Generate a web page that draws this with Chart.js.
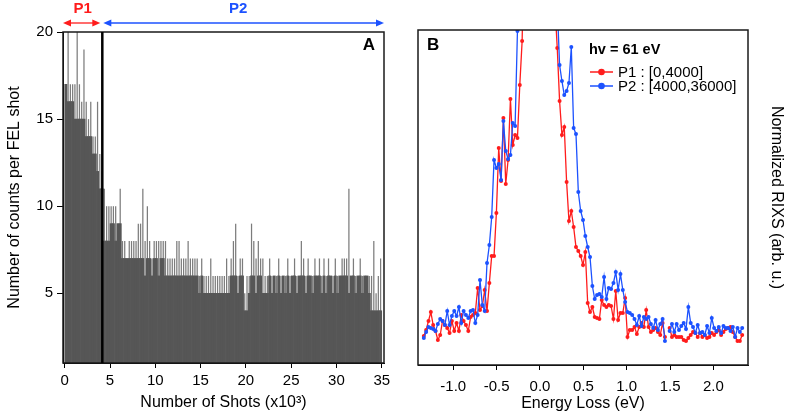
<!DOCTYPE html>
<html>
<head>
<meta charset="utf-8">
<script src="https://cdn.jsdelivr.net/npm/chart.js@4.4.0/dist/chart.umd.min.js"></script>
<style>
  html, body { margin: 0; padding: 0; background: #fff; }
  #wrap { position: relative; width: 787px; height: 413px; }
  canvas { position: absolute; top: 0; }
  #chartA { left: 0; }
  #chartB { left: 400px; }
</style>
</head>
<body>
<div id="wrap">
  <canvas id="chartA" width="400" height="413"></canvas>
  <canvas id="chartB" width="387" height="413"></canvas>
</div>
<script>
// ---- panel A : counts per FEL shot, binned by 250 shots (x in units of 10^3 shots)
const shotBins = [
  0.125, 0.375, 0.625, 0.875, 1.125, 1.375, 1.625, 1.875, 2.125, 2.375,
  2.625, 2.875, 3.125, 3.375, 3.625, 3.875, 4.125, 4.375, 4.625, 4.875,
  5.125, 5.375, 5.625, 5.875, 6.125, 6.375, 6.625, 6.875, 7.125, 7.375,
  7.625, 7.875, 8.125, 8.375, 8.625, 8.875, 9.125, 9.375, 9.625, 9.875,
  10.125, 10.375, 10.625, 10.875, 11.125, 11.375, 11.625, 11.875, 12.125, 12.375,
  12.625, 12.875, 13.125, 13.375, 13.625, 13.875, 14.125, 14.375, 14.625, 14.875,
  15.125, 15.375, 15.625, 15.875, 16.125, 16.375, 16.625, 16.875, 17.125, 17.375,
  17.625, 17.875, 18.125, 18.375, 18.625, 18.875, 19.125, 19.375, 19.625, 19.875,
  20.125, 20.375, 20.625, 20.875, 21.125, 21.375, 21.625, 21.875, 22.125, 22.375,
  22.625, 22.875, 23.125, 23.375, 23.625, 23.875, 24.125, 24.375, 24.625, 24.875,
  25.125, 25.375, 25.625, 25.875, 26.125, 26.375, 26.625, 26.875, 27.125, 27.375,
  27.625, 27.875, 28.125, 28.375, 28.625, 28.875, 29.125, 29.375, 29.625, 29.875,
  30.125, 30.375, 30.625, 30.875, 31.125, 31.375, 31.625, 31.875, 32.125, 32.375,
  32.625, 32.875, 33.125, 33.375, 33.625, 33.875, 34.125, 34.375, 34.625, 34.875
];
// typical count level in each bin
const countLevel = [
  17, 16, 16, 16, 15, 15, 15, 15, 15, 14,
  14, 14, 13, 13, 12, 11, 11, 8, 8, 8,
  9, 9, 8, 9, 9, 7, 7, 7, 7, 7,
  7, 7, 7, 7, 7, 6, 7, 7, 6, 7,
  7, 6, 7, 7, 6, 6, 6, 6, 6, 6,
  6, 6, 6, 6, 6, 6, 6, 6, 6, 5,
  6, 5, 5, 5, 5, 5, 5, 5, 5, 5,
  5, 5, 5, 6, 6, 6, 5, 6, 6, 4,
  4, 5, 6, 6, 5, 6, 6, 5, 5, 5,
  6, 5, 6, 5, 6, 5, 6, 5, 6, 5,
  6, 6, 5, 6, 6, 6, 5, 6, 6, 5,
  6, 6, 6, 5, 6, 5, 6, 6, 5, 6,
  5, 6, 6, 6, 6, 5, 6, 6, 5, 6,
  6, 5, 6, 6, 5, 4, 4, 4, 4, 4
];
// highest single-shot count in each bin
const countMax = [
  17, 20, 17, 17, 17, 20, 17, 16, 19, 16,
  15, 16, 14, 14, 16, 13, 12, 11, 10, 10,
  10, 10, 10, 9, 11, 8, 8, 7, 8, 8,
  8, 8, 9, 9, 11, 8, 10, 8, 7, 8,
  8, 8, 8, 8, 8, 7, 7, 7, 7, 8,
  8, 7, 7, 7, 8, 7, 7, 7, 7, 6,
  7, 6, 6, 6, 7, 6, 6, 6, 6, 6,
  6, 7, 6, 7, 8, 9, 6, 7, 7, 5,
  6, 6, 9, 8, 7, 8, 7, 7, 6, 6,
  7, 6, 6, 6, 7, 6, 6, 6, 7, 6,
  6, 7, 6, 6, 8, 7, 6, 7, 6, 6,
  7, 6, 7, 6, 7, 6, 7, 6, 6, 7,
  6, 6, 7, 7, 7, 11, 6, 7, 6, 6,
  7, 6, 6, 6, 6, 6, 8, 5, 6, 7
];
const boundaryShots = 4.15;
const shotTicks = [0, 5, 10, 15, 20, 25, 30, 35];
const countTicks = [5, 10, 15, 20];

// ---- panel B : RIXS spectra
const energyLoss = [
  -1.340, -1.313, -1.286, -1.259, -1.232, -1.205, -1.178, -1.151, -1.124, -1.097,
  -1.070, -1.043, -1.016, -0.989, -0.962, -0.935, -0.908, -0.881, -0.854, -0.827,
  -0.800, -0.773, -0.746, -0.719, -0.692, -0.665, -0.638, -0.611, -0.584, -0.557,
  -0.530, -0.503, -0.476, -0.449, -0.422, -0.395, -0.368, -0.341, -0.314, -0.287,
  -0.260, -0.233, -0.206, -0.179, -0.152, -0.125, -0.098, -0.071, -0.044, -0.017,
  0.010, 0.037, 0.064, 0.091, 0.118, 0.145, 0.172, 0.199, 0.226, 0.253,
  0.280, 0.307, 0.334, 0.361, 0.388, 0.415, 0.442, 0.469, 0.496, 0.523,
  0.550, 0.577, 0.604, 0.631, 0.658, 0.685, 0.712, 0.739, 0.766, 0.793,
  0.820, 0.847, 0.874, 0.901, 0.928, 0.955, 0.982, 1.009, 1.036, 1.063,
  1.090, 1.117, 1.144, 1.171, 1.198, 1.225, 1.252, 1.279, 1.306, 1.333,
  1.360, 1.387, 1.414, 1.441, 1.468, 1.495, 1.522, 1.549, 1.576, 1.603,
  1.630, 1.657, 1.684, 1.711, 1.738, 1.765, 1.792, 1.819, 1.846, 1.873,
  1.900, 1.927, 1.954, 1.981, 2.008, 2.035, 2.062, 2.089, 2.116, 2.143,
  2.170, 2.197, 2.224, 2.251, 2.278, 2.305, 2.332
];
const rixsP1 = [
  0.29, 0.35, 0.44, 0.53, 0.40, 0.34, 0.25, 0.30, 0.44, 0.40,
  0.37, 0.32, 0.44, 0.34, 0.42, 0.34, 0.50, 0.44, 0.40, 0.34,
  0.48, 0.50, 0.52, 0.77, 0.55, 0.59, 0.75, 0.54, 0.82, 1.09,
  1.09, 1.52, 2.17, 1.84, 2.47, 1.81, 2.05, 2.66, 2.20, 2.30,
  2.27, 2.80, 3.24, 4.50, 6.80, 9.50, 12.6, 15.2, 16.8, 17.1,
  16.0, 13.5, 10.4, 7.60, 5.50, 4.20, 3.60, 3.17, 2.64, 2.30,
  2.38, 1.83, 1.44, 1.54, 1.38, 1.18, 1.14, 1.09, 1.00, 1.13,
  0.62, 0.53, 0.58, 0.48, 0.47, 0.46, 0.65, 0.60, 0.58, 0.60,
  0.59, 0.46, 0.74, 0.45, 0.52, 0.52, 0.67, 0.28, 0.35, 0.35,
  0.38, 0.31, 0.38, 0.42, 0.38, 0.55, 0.38, 0.33, 0.35, 0.37,
  0.33, 0.30, 0.42, 0.28, null, 0.37, 0.28, 0.30, 0.28, 0.28,
  0.28, 0.25, 0.24, 0.27, 0.30, 0.33, 0.32, 0.28, 0.32, 0.28,
  0.30, 0.27, 0.28, 0.32, 0.30, 0.33, 0.35, 0.30, 0.33, 0.36,
  0.37, 0.38, 0.33, 0.28, 0.24, 0.24, 0.30
];
const rixsP2 = [
  0.27, 0.33, 0.38, 0.37, 0.36, 0.34, 0.41, 0.46, 0.44, 0.40,
  0.54, 0.40, 0.49, 0.54, 0.49, 0.58, 0.42, 0.54, 0.50, 0.47,
  0.54, 0.55, 0.42, 0.50, 0.85, 0.60, 0.54, 1.02, 1.20, 1.48,
  2.05, 1.97, 2.01, 1.85, 2.44, 2.14, 2.06, 2.10, 2.42, 2.39,
  3.34, 4.60, 6.20, 8.50, 11.2, 13.8, 15.6, 16.4, 16.2, 14.9,
  12.8, 10.6, 8.40, 6.50, 5.20, 4.40, 3.90, 3.60, 3.00, 2.84,
  2.70, 2.74, 2.82, 3.18, 2.37, 2.31, 1.73, 1.54, 1.45, 1.29,
  1.18, 1.08, 0.79, 0.66, 0.70, 0.71, 0.68, 0.88, 0.66, 0.77,
  0.76, 0.82, 0.93, 0.75, 0.91, 0.75, 0.63, 0.53, 0.52, 0.50,
  0.46, 0.40, 0.49, 0.39, 0.48, 0.46, 0.48, 0.41, 0.37, 0.45,
  0.35, 0.41, 0.46, 0.24, null, 0.34, 0.41, 0.33, 0.41, 0.35,
  0.39, 0.42, 0.36, 0.58, 0.42, 0.38, 0.32, 0.40, 0.32, 0.33,
  0.30, 0.39, 0.32, 0.47, 0.37, 0.34, 0.38, 0.32, 0.39, 0.37,
  0.37, 0.34, 0.38, 0.28, 0.37, 0.33, 0.37
];
const seriesLabels = ['P1 : [0,4000]', 'P2 : [4000,36000]'];
const energyTicks = [-1.0, -0.5, 0.0, 0.5, 1.0, 1.5, 2.0];

const FONT = '"Liberation Sans", Arial, Helvetica, sans-serif';
const RED = 'rgb(255, 28, 28)';
const BLUE = 'rgb(28, 82, 255)';

Chart.defaults.font.family = FONT;
Chart.defaults.color = '#000';

// full box around the plotting area
const frame = {
  id: 'frame',
  afterDraw(chart) {
    const { ctx, chartArea: a } = chart;
    ctx.save();
    ctx.strokeStyle = '#1a1a1a';
    ctx.lineWidth = 1.5;
    ctx.strokeRect(a.left, a.top, a.right - a.left, a.bottom - a.top);
    ctx.restore();
  }
};

function doubleArrow(ctx, x1, x2, y, color) {
  const h = 8, w = 3.5;
  ctx.strokeStyle = color;
  ctx.fillStyle = color;
  ctx.lineWidth = 1.3;
  ctx.beginPath();
  ctx.moveTo(x1 + h - 1, y);
  ctx.lineTo(x2 - h + 1, y);
  ctx.stroke();
  ctx.beginPath();
  ctx.moveTo(x1, y); ctx.lineTo(x1 + h, y - w); ctx.lineTo(x1 + h, y + w);
  ctx.closePath(); ctx.fill();
  ctx.beginPath();
  ctx.moveTo(x2, y); ctx.lineTo(x2 - h, y - w); ctx.lineTo(x2 - h, y + w);
  ctx.closePath(); ctx.fill();
}

// boundary between the two periods, arrows and panel letter
const periodMarks = {
  id: 'periodMarks',
  afterDraw(chart) {
    const { ctx, chartArea: a, scales: { x } } = chart;
    const xb = x.getPixelForValue(boundaryShots);
    ctx.save();
    ctx.strokeStyle = '#000';
    ctx.lineWidth = 2.5;
    ctx.beginPath();
    ctx.moveTo(xb, a.top);
    ctx.lineTo(xb, a.bottom);
    ctx.stroke();

    doubleArrow(ctx, a.left, xb - 2, 23, RED);
    doubleArrow(ctx, xb + 1, a.right, 23, BLUE);

    ctx.font = 'bold 15px ' + FONT;
    ctx.textAlign = 'center';
    ctx.textBaseline = 'middle';
    ctx.fillStyle = RED;
    ctx.fillText('P1', (a.left + xb) / 2, 9);
    ctx.fillStyle = BLUE;
    ctx.fillText('P2', (xb + a.right) / 2 - 5, 9);

    ctx.fillStyle = '#000';
    ctx.font = 'bold 17px ' + FONT;
    ctx.textAlign = 'right';
    ctx.fillText('A', a.right - 9, 45);
    ctx.restore();
  }
};

// panel letter and legend of panel B
const spectraLegend = {
  id: 'spectraLegend',
  afterDraw(chart) {
    const { ctx, chartArea: a } = chart;
    ctx.save();
    ctx.fillStyle = '#000';
    ctx.textBaseline = 'middle';
    ctx.textAlign = 'left';
    ctx.font = 'bold 17px ' + FONT;
    ctx.fillText('B', a.left + 9, 45);

    ctx.font = 'bold 14.5px ' + FONT;
    ctx.fillText('hv = 61 eV', 189, 50);

    ctx.font = '15px ' + FONT;
    const colors = [RED, BLUE];
    seriesLabels.forEach((lab, i) => {
      const y = 72 + i * 14;
      ctx.strokeStyle = colors[i];
      ctx.fillStyle = colors[i];
      ctx.lineWidth = 1.5;
      ctx.beginPath();
      ctx.moveTo(190, y);
      ctx.lineTo(213, y);
      ctx.stroke();
      ctx.beginPath();
      ctx.arc(201.5, y, 3.3, 0, Math.PI * 2);
      ctx.fill();
      ctx.fillStyle = '#000';
      ctx.fillText(lab, 218, y + 0.5);
    });
    ctx.restore();
  }
};

new Chart(document.getElementById('chartA'), {
  type: 'bar',
  data: {
    labels: shotBins,
    datasets: [
      {
        label: 'level',
        data: countLevel,
        backgroundColor: '#565656',
        barPercentage: 1,
        categoryPercentage: 1,
        grouped: false,
        base: 1,
        order: 1
      },
      {
        label: 'max',
        data: countMax,
        backgroundColor: '#7c7c7c',
        barPercentage: 0.55,
        categoryPercentage: 1,
        grouped: false,
        base: 1,
        order: 2
      }
    ]
  },
  options: {
    responsive: false,
    animation: false,
    events: [],
    layout: { padding: { top: 32, right: 16, left: 0, bottom: 0 } },
    plugins: { legend: { display: false }, tooltip: { enabled: false } },
    scales: {
      x: {
        type: 'linear',
        min: -0.19,
        max: 35.25,
        offset: false,
        afterBuildTicks: s => { s.ticks = shotTicks.map(v => ({ value: v })); },
        afterFit: s => { s.height = 50; },
        ticks: { font: { size: 15 }, padding: 4, maxRotation: 0 },
        grid: { offset: false, drawOnChartArea: false, drawTicks: true, tickLength: 5, color: '#000' },
        border: { display: true, color: '#000' },
        title: { display: true, text: 'Number of Shots (x10³)', font: { size: 16 }, padding: { top: 0, bottom: 1 } }
      },
      y: {
        min: 1,
        max: 20,
        afterBuildTicks: s => { s.ticks = countTicks.map(v => ({ value: v })); },
        afterFit: s => { s.width = 63; },
        ticks: { font: { size: 15 }, padding: 4 },
        grid: { drawOnChartArea: false, drawTicks: true, tickLength: 6, color: '#000' },
        border: { display: true, color: '#000' },
        title: { display: true, text: 'Number of counts per FEL shot', font: { size: 16 }, padding: { top: 5, bottom: 0 } }
      }
    }
  },
  plugins: [frame, periodMarks]
});

new Chart(document.getElementById('chartB'), {
  type: 'line',
  data: {
    labels: energyLoss,
    datasets: [
      {
        label: seriesLabels[1],
        data: rixsP2,
        borderColor: BLUE,
        backgroundColor: BLUE,
        borderWidth: 1.3,
        pointRadius: 2,
        pointBorderWidth: 0,
        spanGaps: false
      },
      {
        label: seriesLabels[0],
        data: rixsP1,
        borderColor: RED,
        backgroundColor: RED,
        borderWidth: 1.3,
        pointRadius: 2,
        pointBorderWidth: 0,
        spanGaps: false
      }
    ]
  },
  options: {
    responsive: false,
    animation: false,
    events: [],
    layout: { padding: { top: 30, left: 18, right: 0, bottom: 0 } },
    plugins: { legend: { display: false }, tooltip: { enabled: false } },
    scales: {
      x: {
        type: 'linear',
        min: -1.407,
        max: 2.399,
        afterBuildTicks: s => { s.ticks = energyTicks.map(v => ({ value: v })); },
        afterFit: s => { s.height = 48; },
        ticks: { font: { size: 15 }, padding: 8, maxRotation: 0, callback: v => v.toFixed(1) },
        grid: { drawOnChartArea: false, drawTicks: true, tickLength: 5, color: '#000' },
        border: { display: true, color: '#000' },
        title: { display: true, text: 'Energy Loss (eV)', font: { size: 16 }, padding: { top: 0, bottom: 0 } }
      },
      y: {
        position: 'right',
        min: 0,
        max: 3.35,
        afterFit: s => { s.width = 39; },
        ticks: { display: false },
        grid: { display: false },
        border: { display: false },
        title: { display: true, text: 'Normalized RIXS (arb. u.)', font: { size: 16 }, padding: { top: 1, bottom: 0 } }
      }
    }
  },
  plugins: [frame, spectraLegend]
});
</script>
</body>
</html>
